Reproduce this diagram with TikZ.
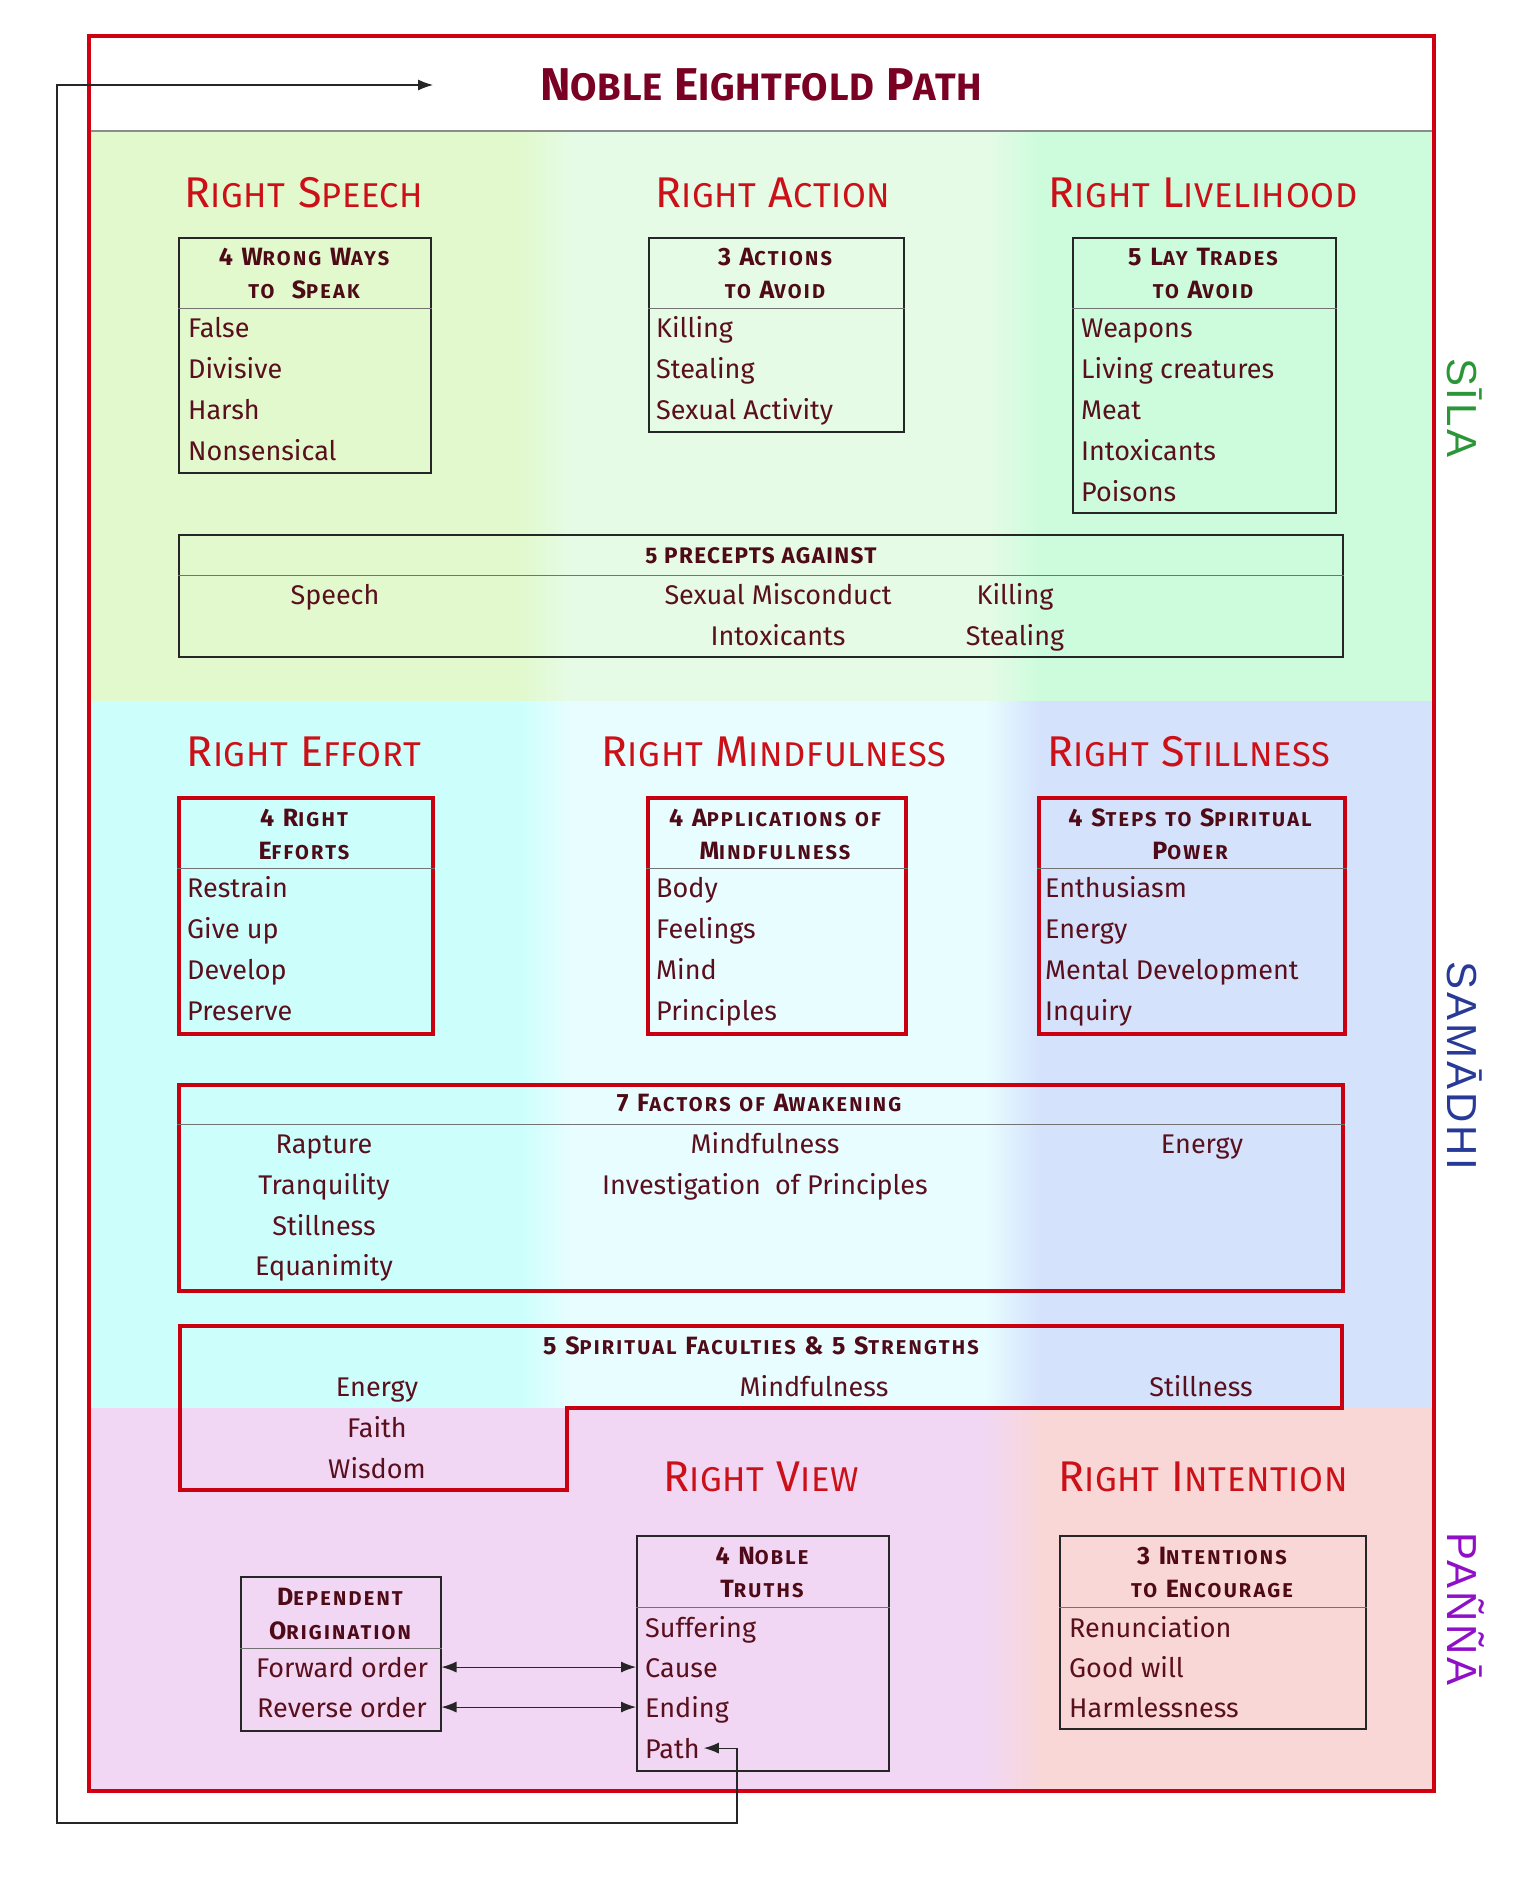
\documentclass[tikz,border=0pt]{standalone}
\usepackage{fontspec}
\usepackage{graphicx}
\setmainfont{Fira Sans}
\newfontfamily\sidefont{Liberation Sans}
\usetikzlibrary{arrows.meta}
\makeatletter
\def\scr{0.78}
\newcommand\smc[1]{{\@tempdima=\f@size pt\relax\@tempdima=\scr\@tempdima\fontsize{\strip@pt\@tempdima}{\strip@pt\@tempdima}\selectfont #1}}
\makeatother
\definecolor{dark}{HTML}{5A0F1C}
\definecolor{bdark}{HTML}{4E0A16}
\definecolor{hdred}{HTML}{CC1018}
\definecolor{ttl}{HTML}{7A0024}
\definecolor{framered}{HTML}{D00010}
\definecolor{rbox}{HTML}{C80010}
\definecolor{silaG}{HTML}{2A9638}
\definecolor{samB}{HTML}{283A98}
\definecolor{panP}{HTML}{9010C8}
\definecolor{silaL}{HTML}{E1F9CD}
\definecolor{silaM}{HTML}{E6FBE6}
\definecolor{silaR}{HTML}{CCFCDC}
\definecolor{samL}{HTML}{CCFFFC}
\definecolor{samM}{HTML}{E8FDFF}
\definecolor{samR}{HTML}{D4E2FC}
\definecolor{panL}{HTML}{F1D7F4}
\definecolor{panR}{HTML}{F9D7D7}
\begin{document}
\begin{tikzpicture}[x=1pt,y=-1pt,
  head/.style={font=\fontsize{43}{48}\selectfont\addfontfeature{LetterSpace=2}\def\scr{0.8}, text=hdred, anchor=base, inner sep=0},
  bhead/.style={font=\bfseries\fontsize{25}{30}\selectfont\addfontfeature{LetterSpace=11}\def\scr{0.8}, text=bdark, anchor=base, inner sep=0},
  item/.style={font=\fontsize{27}{32}\selectfont, text=dark, anchor=base west, inner sep=0},
  citem/.style={item, anchor=base},
  blk/.style={draw=black!85, line width=1.5, minimum width=#1, anchor=north west, inner sep=0},
  rblk/.style={draw=rbox, line width=3.5, minimum width=#1, anchor=north west, inner sep=0},
  divl/.style={draw=black!55, line width=1},
  side/.style={font=\sidefont\fontsize{42}{42}\selectfont\addfontfeature{LetterSpace=7}, rotate=-90, anchor=base, inner sep=0},
  conn/.style={draw=black!85, line width=1.1},
  tip/.tip={Latex[length=15,width=11]}
]
\useasboundingbox (0,0) rectangle (1525,1877);
\fill[white] (0,0) rectangle (1525,1877);
% ---------- backgrounds
\fill[silaL] (89,132) rectangle (520,701);
\shade[left color=silaL,right color=silaM] (520,132) rectangle (572,701);
\fill[silaM] (571,132) rectangle (985,701);
\shade[left color=silaM,right color=silaR] (985,132) rectangle (1042,701);
\fill[silaR] (1041,132) rectangle (1434,701);
\fill[samL] (89,701) rectangle (520,1408);
\shade[left color=samL,right color=samM] (520,701) rectangle (572,1408);
\fill[samM] (571,701) rectangle (985,1408);
\shade[left color=samM,right color=samR] (985,701) rectangle (1040,1408);
\fill[samR] (1039,701) rectangle (1434,1408);
\fill[panL] (89,1408) rectangle (985,1791);
\shade[left color=panL,right color=panR] (985,1408) rectangle (1042,1791);
\fill[panR] (1041,1408) rectangle (1434,1791);
\draw[black!45, line width=1.5] (89,131) -- (1434,131);
\draw[framered, line width=3.5] (89,36) rectangle (1434,1791);
% ---------- title
\node[font=\bfseries\fontsize{46}{50}\selectfont\addfontfeature{LetterSpace=2}\def\scr{0.83}, text=ttl, anchor=base, inner sep=0] (title) at (761,100) {N\smc{OBLE} E\smc{IGHTFOLD} P\smc{ATH}};
% ---------- side labels
\node[side, text=silaG] (sila) at (1447,408) {SĪLA};
\node[side, text=samB] (samadhi) at (1447,1066) {SAMĀDHI};
\node[side, text=panP] (panna) at (1447,1609) {PAÑÑĀ};
% ---------- headings
\node[head] (hSpeech) at (304,207) {R\smc{IGHT} S\smc{PEECH}};
\node[head] (hAction) at (773,207) {R\smc{IGHT} A\smc{CTION}};
\node[head] (hLive) at (1203,207) {R\smc{IGHT} L\smc{IVELIHOOD}};
\node[head] (hEffort) at (304,766) {R\smc{IGHT} E\smc{FFORT}};
\node[head] (hMind) at (774,766) {R\smc{IGHT} M\smc{INDFULNESS}};
\node[head] (hStill) at (1189,766) {R\smc{IGHT} S\smc{TILLNESS}};
\node[head] (hView) at (761,1491) {R\smc{IGHT} V\smc{IEW}};
\node[head] (hInt) at (1203,1491) {R\smc{IGHT} I\smc{NTENTION}};
% ---------- box 1
\node[blk=252, minimum height=235] (b1) at (178,237) {};
\draw[divl] (b1.west |- 0,308) -- (b1.east |- 0,308);
\node[bhead] (b1h1) at (304,265) {4 W\smc{RONG} W\smc{AYS}};
\node[bhead] (b1h2) at (304,298) {\smc{TO}\ \ S\smc{PEAK}};
\node[item] (b1i1) at (188,337) {False};
\node[item] (b1i2) at (188,378) {Divisive};
\node[item] (b1i3) at (188,419) {Harsh};
\node[item] (b1i4) at (188,460) {Nonsensical};
% ---------- box 2
\node[blk=255, minimum height=194] (b2) at (648,237) {};
\draw[divl] (b2.west |- 0,308) -- (b2.east |- 0,308);
\node[bhead] (b2h1) at (775,265) {3 A\smc{CTIONS}};
\node[bhead] (b2h2) at (775,298) {\smc{TO} A\smc{VOID}};
\node[item] (b2i1) at (656,337) {Killing};
\node[item] (b2i2) at (656,378) {Stealing};
\node[item] (b2i3) at (656,419) {Sexual Activity};
% ---------- box 3
\node[blk=263, minimum height=275] (b3) at (1072,237) {};
\draw[divl] (b3.west |- 0,308) -- (b3.east |- 0,308);
\node[bhead] (b3h1) at (1203,265) {5 L\smc{AY} T\smc{RADES}};
\node[bhead] (b3h2) at (1203,298) {\smc{TO} A\smc{VOID}};
\node[item] (b3i1) at (1081,337) {Weapons};
\node[item] (b3i2) at (1081,378) {Living creatures};
\node[item] (b3i3) at (1081,419) {Meat};
\node[item] (b3i4) at (1081,460) {Intoxicants};
\node[item] (b3i5) at (1081,501) {Poisons};
% ---------- precepts
\node[blk=1164, minimum height=122] (pr) at (178,534) {};
\draw[divl] (pr.west |- 0,575) -- (pr.east |- 0,575);
\node[bhead, font=\bfseries\fontsize{22.5}{24}\selectfont\addfontfeature{LetterSpace=6}] (prh) at (761,563) {5 PRECEPTS AGAINST};
\node[citem] (pr1) at (335,604) {Speech};
\node[citem] (pr2) at (778,604) {Sexual Misconduct};
\node[citem] (pr3) at (1015,604) {Killing};
\node[citem] (pr4) at (778,645) {Intoxicants};
\node[citem] (pr5) at (1015,645) {Stealing};
% ---------- box 4
\node[rblk=254, minimum height=236] (b4) at (177,796) {};
\draw[divl] (b4.west |- 0,868) -- (b4.east |- 0,868);
\node[bhead] (b4h1) at (304,826) {4 R\smc{IGHT}};
\node[bhead] (b4h2) at (304,859) {E\smc{FFORTS}};
\node[item] (b4i1) at (187,897) {Restrain};
\node[item] (b4i2) at (187,938) {Give up};
\node[item] (b4i3) at (187,979) {Develop};
\node[item] (b4i4) at (187,1020) {Preserve};
% ---------- box 5
\node[rblk=258, minimum height=236] (b5) at (646,796) {};
\draw[divl] (b5.west |- 0,868) -- (b5.east |- 0,868);
\node[bhead] (b5h1) at (775,826) {4 A\smc{PPLICATIONS} \smc{OF}};
\node[bhead] (b5h2) at (775,859) {M\smc{INDFULNESS}};
\node[item] (b5i1) at (656,897) {Body};
\node[item] (b5i2) at (656,938) {Feelings};
\node[item] (b5i3) at (656,979) {Mind};
\node[item] (b5i4) at (656,1020) {Principles};
% ---------- box 6
\node[rblk=306, minimum height=236] (b6) at (1037,796) {};
\draw[divl] (b6.west |- 0,868) -- (b6.east |- 0,868);
\node[bhead] (b6h1) at (1190,826) {4 S\smc{TEPS} \smc{TO} S\smc{PIRITUAL}};
\node[bhead] (b6h2) at (1190,859) {P\smc{OWER}};
\node[item] (b6i1) at (1045,897) {Enthusiasm};
\node[item] (b6i2) at (1045,938) {Energy};
\node[item] (b6i3) at (1045,979) {Mental Development};
\node[item] (b6i4) at (1045,1020) {Inquiry};
% ---------- 7 factors
\node[rblk=1164, minimum height=206] (fa) at (177,1083) {};
\draw[divl] (fa.west |- 0,1124) -- (fa.east |- 0,1124);
\node[bhead] (fah) at (759,1111) {7 F\smc{ACTORS} \smc{OF} A\smc{WAKENING}};
\node[citem] (fa1) at (324,1153) {Rapture};
\node[citem] (fa2) at (324,1194) {Tranquility};
\node[citem] (fa3) at (324,1235) {Stillness};
\node[citem] (fa4) at (324,1275) {Equanimity};
\node[citem] (fa5) at (765,1153) {Mindfulness};
\node[citem] (fa6) at (765,1194) {Investigation\ \ of Principles};
\node[citem] (fa7) at (1202,1153) {Energy};
% ---------- 5 spiritual faculties
\draw[rbox, line width=3.5] (180,1326) -- (1342,1326) -- (1342,1408) -- (567,1408) -- (567,1490) -- (180,1490) -- cycle;
\node[bhead] (sfh) at (761,1354) {5 S\smc{PIRITUAL} F\smc{ACULTIES} \& 5 S\smc{TRENGTHS}};
\node[citem] (sf1) at (377,1396) {Energy};
\node[citem] (sf2) at (377,1437) {Faith};
\node[citem] (sf3) at (377,1478) {Wisdom};
\node[citem] (sf4) at (814,1396) {Mindfulness};
\node[citem] (sf5) at (1201,1396) {Stillness};
% ---------- dependent origination
\node[blk=200, minimum height=154] (do) at (240,1576) {};
\draw[divl] (do.west |- 0,1648) -- (do.east |- 0,1648);
\node[bhead] (doh1) at (340,1605) {D\smc{EPENDENT}};
\node[bhead] (doh2) at (340,1639) {O\smc{RIGINATION}};
\node[citem] (fwd) at (342,1677) {Forward order};
\node[citem] (rev) at (342,1717) {Reverse order};
% ---------- noble truths
\node[blk=252, minimum height=235] (nt) at (636,1535) {};
\draw[divl] (nt.west |- 0,1607) -- (nt.east |- 0,1607);
\node[bhead] (nth1) at (762,1564) {4 N\smc{OBLE}};
\node[bhead] (nth2) at (762,1597) {T\smc{RUTHS}};
\node[item] (nt1) at (645,1637) {Suffering};
\node[item] (nt2) at (645,1677) {Cause};
\node[item] (nt3) at (645,1717) {Ending};
\node[item] (nt4) at (645,1758) {Path};
% ---------- intentions
\node[blk=306, minimum height=193] (in) at (1059,1535) {};
\draw[divl] (in.west |- 0,1607) -- (in.east |- 0,1607);
\node[bhead] (inh1) at (1212,1564) {3 I\smc{NTENTIONS}};
\node[bhead] (inh2) at (1212,1597) {\smc{TO} E\smc{NCOURAGE}};
\node[item] (in1) at (1069,1637) {Renunciation};
\node[item] (in2) at (1069,1677) {Good will};
\node[item] (in3) at (1069,1717) {Harmlessness};
% ---------- connectors
\draw[conn, {tip}-{tip}] (do.east |- fwd) -- (nt.west |- fwd);
\draw[conn, {tip}-{tip}] (do.east |- rev) -- (nt.west |- rev);
\coordinate (loopBR) at (737,1823);
\coordinate (loopBL) at (57,1823);
\coordinate (loopTL) at (57,85);
\coordinate (loopEnd) at (433,85);
\draw[conn, {tip}-{tip}, shorten <=4] (nt4.east) -| (loopBR) -- (loopBL) -- (loopTL) -- (loopEnd);
\end{tikzpicture}
\end{document}
